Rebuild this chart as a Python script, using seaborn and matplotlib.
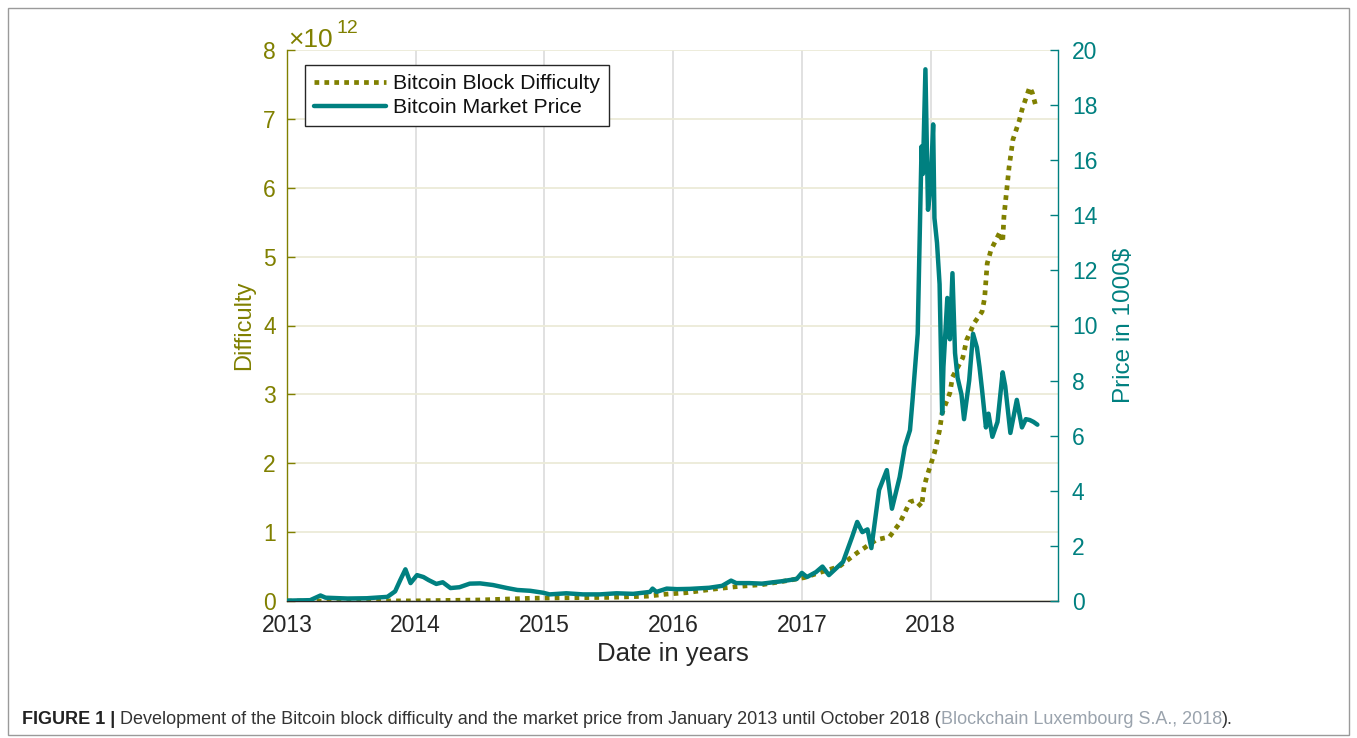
import numpy as np
import pandas as pd
import matplotlib
matplotlib.use("Agg")
import matplotlib.pyplot as plt
from matplotlib.patches import Rectangle
import seaborn as sns

# ---------------- data ----------------
diff_years = [2013.0, 2013.5, 2014.0, 2014.5, 2014.9, 2015.2, 2015.5, 2015.8, 2015.95,
              2016.1, 2016.3, 2016.5, 2016.7, 2016.9, 2017.02, 2017.15, 2017.29, 2017.43,
              2017.58, 2017.68, 2017.76, 2017.84, 2017.88, 2017.93, 2017.95, 2017.97,
              2018.03, 2018.07, 2018.09, 2018.15, 2018.17, 2018.25, 2018.28, 2018.34,
              2018.40, 2018.42, 2018.44, 2018.47, 2018.54, 2018.56, 2018.57, 2018.61,
              2018.64, 2018.69, 2018.71, 2018.75, 2018.77, 2018.79, 2018.82]
difficulty = [0.0, 0.0, 0.002, 0.015, 0.04, 0.047, 0.052, 0.07, 0.10,
              0.12, 0.17, 0.21, 0.24, 0.30, 0.34, 0.42, 0.50, 0.70,
              0.89, 0.93, 1.13, 1.44, 1.46, 1.37, 1.66, 1.80,
              2.15, 2.48, 2.73, 3.02, 3.25, 3.53, 3.79, 4.04,
              4.20, 4.40, 4.90, 5.10, 5.36, 5.21, 5.58, 6.30,
              6.70, 6.98, 7.13, 7.35, 7.46, 7.38, 7.17]

price_years = [2013.0, 2013.18, 2013.26, 2013.30, 2013.47, 2013.62, 2013.78, 2013.84,
               2013.88, 2013.92, 2013.96, 2014.01, 2014.06, 2014.10, 2014.16, 2014.21,
               2014.27, 2014.34, 2014.42, 2014.50, 2014.60, 2014.71, 2014.79, 2014.89,
               2014.99, 2015.04, 2015.17, 2015.30, 2015.43, 2015.56, 2015.69, 2015.82,
               2015.84, 2015.87, 2015.95, 2016.03, 2016.13, 2016.28, 2016.38, 2016.45,
               2016.49, 2016.59, 2016.69, 2016.85, 2016.96, 2017.00, 2017.04, 2017.11,
               2017.16, 2017.21, 2017.32, 2017.39, 2017.43, 2017.47, 2017.51, 2017.54,
               2017.60, 2017.66, 2017.70, 2017.76, 2017.80, 2017.84, 2017.86, 2017.90,
               2017.93, 2017.94, 2017.96, 2017.98, 2018.00, 2018.02, 2018.03, 2018.05,
               2018.07, 2018.09, 2018.10, 2018.13, 2018.15, 2018.17, 2018.19, 2018.21,
               2018.24, 2018.26, 2018.30, 2018.33, 2018.36, 2018.38, 2018.40, 2018.43,
               2018.45, 2018.48, 2018.52, 2018.56, 2018.58, 2018.62, 2018.67, 2018.71,
               2018.74, 2018.77, 2018.80, 2018.83]
price = [0.013, 0.03, 0.20, 0.12, 0.09, 0.10, 0.15, 0.35,
         0.76, 1.15, 0.65, 0.94, 0.87, 0.76, 0.62, 0.68,
         0.47, 0.50, 0.63, 0.64, 0.58, 0.47, 0.40, 0.37,
         0.30, 0.24, 0.28, 0.24, 0.24, 0.28, 0.26, 0.33,
         0.45, 0.33, 0.45, 0.43, 0.44, 0.48, 0.55, 0.74,
         0.65, 0.65, 0.63, 0.72, 0.80, 1.02, 0.87, 1.05,
         1.25, 0.94, 1.42, 2.32, 2.87, 2.50, 2.60, 1.92,
         4.03, 4.75, 3.35, 4.50, 5.60, 6.20, 7.30, 9.70,
         16.5, 15.5, 19.3, 14.2, 15.0, 17.3, 13.9, 13.0,
         11.5, 6.8, 8.5, 11.0, 9.5, 11.9, 9.0, 8.1,
         7.5, 6.6, 8.0, 9.7, 9.2, 8.5, 7.66, 6.3,
         6.8, 5.96, 6.5, 8.3, 7.8, 6.1, 7.3, 6.3,
         6.6, 6.57, 6.5, 6.4]

year_ticks = [2013, 2014, 2015, 2016, 2017, 2018]
diff_ticks = [0, 1, 2, 3, 4, 5, 6, 7, 8]
price_ticks = [0, 2, 4, 6, 8, 10, 12, 14, 16, 18, 20]

series_labels = ["Bitcoin Block Difficulty", "Bitcoin Market Price"]

# ---------------- style ----------------
OLIVE = "#808000"
TEAL = "#008080"
DARK = "#262626"

sns.set_style("white")
plt.rcParams["font.family"] = ["Liberation Sans", "DejaVu Sans"]

fig = plt.figure(figsize=(13.57, 7.38), dpi=100)
ax = fig.add_axes([287 / 1357, 1 - 601 / 738, (1058 - 287) / 1357, (601 - 50) / 738])
ax2 = ax.twinx()

df_d = pd.DataFrame({"year": diff_years, "difficulty": difficulty})
df_p = pd.DataFrame({"year": price_years, "price": price})

sns.lineplot(data=df_d, x="year", y="difficulty", ax=ax, color=OLIVE, lw=3.4,
             linestyle=(0, (1, 1.1)), legend=False, sort=True)
sns.lineplot(data=df_p, x="year", y="price", ax=ax2, color=TEAL, lw=3.2,
             legend=False, sort=True)

ax.set_xlim(2013, 2018.99)
ax.set_ylim(0, 8)
ax2.set_ylim(0, 20)

ax.set_xticks(year_ticks)
ax.set_xticklabels([str(y) for y in year_ticks])
ax.set_yticks(diff_ticks)
ax.set_yticklabels([str(v) for v in diff_ticks])
ax2.set_yticks(price_ticks)
ax2.set_yticklabels([str(v) for v in price_ticks])

# grid
ax.set_axisbelow(True)
ax.yaxis.grid(True, color="#ecebd8", lw=1.3)
ax.xaxis.grid(True, color="#dedede", lw=1.3)

# spines
for a in (ax, ax2):
    a.spines["top"].set_visible(False)
ax.spines["right"].set_visible(False)
ax2.spines["left"].set_visible(False)
ax2.spines["bottom"].set_visible(False)
ax.spines["left"].set_color(OLIVE)
ax.spines["bottom"].set_color(DARK)
ax2.spines["right"].set_color(TEAL)
for s in ("left", "bottom"):
    ax.spines[s].set_linewidth(1.0)
ax2.spines["right"].set_linewidth(1.0)

ax.tick_params(axis="x", direction="in", length=6, width=1, colors=DARK,
               labelsize=16.5, pad=9, labelcolor=DARK)
ax.tick_params(axis="y", direction="in", length=6, width=1, color=OLIVE,
               labelsize=16.5, pad=8, labelcolor=OLIVE)
ax2.tick_params(axis="y", direction="in", length=6, width=1, color=TEAL,
                labelsize=16.5, pad=10, labelcolor=TEAL)

ax.set_xlabel("Date in years", fontsize=18.5, color=DARK, labelpad=4)
ax.set_ylabel("Difficulty", fontsize=17, color=OLIVE, labelpad=6)
ax2.set_ylabel("Price in 1000$", fontsize=17.5, color=TEAL, labelpad=11)

# multiplier
fig.text(288 / 1357, 1 - 47 / 738, "\u00d710", fontsize=19, color=OLIVE, va="baseline")
fig.text(337 / 1357, 1 - 33 / 738, "12", fontsize=14, color=OLIVE, va="baseline")

# legend
h = [ax.get_lines()[0], ax2.get_lines()[0]]
leg = ax2.legend(h, series_labels, loc="upper left", bbox_to_anchor=(0.023, 0.972),
                 borderaxespad=0, fontsize=15.3, frameon=True, fancybox=False,
                 framealpha=1, edgecolor=DARK, handlelength=3.4, handletextpad=0.35,
                 labelspacing=0.22, borderpad=0.42)
leg.get_frame().set_linewidth(1.0)
for t in leg.get_texts():
    t.set_color("#111111")

# outer frame
fig.patches.append(Rectangle((8 / 1357, 3 / 738), (1349 - 8) / 1357, (730 - 3) / 738,
                             transform=fig.transFigure, fill=False, ec="#9a9a9a", lw=1))

# caption
renderer = fig.canvas.get_renderer()
cap_y = 1 - 724 / 738
x = 22 / 1357
parts = [("FIGURE 1 | ", "bold", "#222222"),
         ("Development of the Bitcoin block difficulty and the market price from January 2013 until October 2018 (", "normal", "#333333"),
         ("Blockchain Luxembourg S.A., 2018", "normal", "#9aa3ad"),
         (").", "normal", "#333333")]
for txt, wt, col in parts:
    t = fig.text(x, cap_y, txt, fontsize=13.0, fontweight=wt, color=col, va="baseline")
    bb = t.get_window_extent(renderer=renderer)
    x += bb.width / fig.bbox.width

fig.savefig("out.png", dpi=100)
